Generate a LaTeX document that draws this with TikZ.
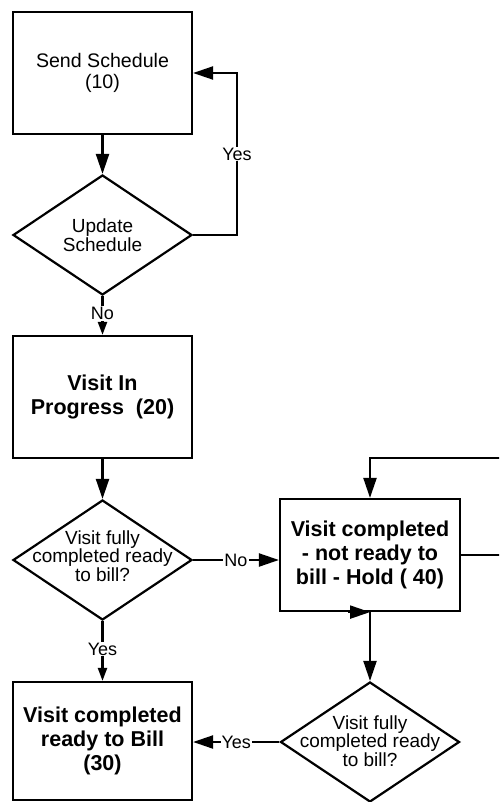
\documentclass[tikz,border=0pt]{standalone}
\usepackage{fontspec}
\setmainfont{Liberation Sans}
\usetikzlibrary{arrows.meta,calc,shapes.geometric}
\tikzset{
  stepbox/.style={
    draw,line width=2.2pt,minimum width=179pt,minimum height=122pt,
    inner sep=0pt,align=center
  },
  plain/.style={font=\fontsize{19.6}{21}\selectfont},
  strong/.style={font=\bfseries\fontsize{21.5}{24}\selectfont},
  decision/.style={
    draw,diamond,line width=2.2pt,minimum width=179pt,minimum height=120pt,
    inner sep=0pt
  },
  question/.style={font=\fontsize{19}{18.7}\selectfont,align=center},
  answer/.style={font=\fontsize{18}{19}\selectfont,fill=white,inner sep=1pt},
  connector/.style={draw,line width=2.2pt},
  arrow/.style={connector,-{Triangle[length=20pt,width=13pt]}},
  tinyarrow/.style={connector,-{Triangle[length=13pt,width=9pt]}}
}

\begin{document}
\begin{tikzpicture}[x=1pt,y=-1pt]
\useasboundingbox (0,0) rectangle (499,802);
\clip (0,0) rectangle (499,802);

% steps and decisions
\node[stepbox,plain] (send) at (102.5,73) {Send Schedule\\(10)};
\node[decision] (update) at (102.5,235) {};
\node[question] at (update) {Update\\Schedule};

\node[stepbox,strong] (progress) at (102.5,397) {Visit In\\Progress\ \ (20)};
\node[decision] (fully) at (102.5,560) {};
\node[question] at ($(fully)+(0,-4)$) {Visit fully\\completed ready\\to bill?};

\node[stepbox,strong,minimum height=118pt] (billed) at (102.5,741)
  {Visit completed\\ready to Bill\\(30)};

\node[stepbox,strong,minimum width=180pt,minimum height=112pt] (hold)
  at (370,555) {Visit completed\\- not ready to\\bill - Hold ( 40)};
\node[decision] (refully) at (370,742) {};
\node[question] at ($(refully)+(0,-1)$) {Visit fully\\completed ready\\to bill?};

% connectors
\draw[arrow] (send) -- (update);
\coordinate (yesbend) at (237,73);
\draw[arrow] (update.east) -| node[answer,pos=0.75] {Yes} (yesbend) -- (send.east);
\draw[tinyarrow] (update.south) -- node[answer,pos=0.45] {No} (progress.north);

\draw[arrow] (progress) -- (fully);
\draw[arrow] (fully.east) -- node[answer,pos=0.5] {No} (fully.east -| hold.west);
\draw[tinyarrow] (fully.south) -- node[answer,pos=0.47] {Yes} (billed.north);

\coordinate (holdloop) at (515,458);
\draw[arrow] (hold.east) -| (holdloop) -| (hold.north);
\draw[arrow] ($(hold.south)+(-22,0)$) -- (hold.south);
\draw[arrow] (hold.south) -- (refully.north);
\draw[arrow] (refully.west) -- node[answer,pos=0.5] {Yes} (refully.west -| billed.east);

\end{tikzpicture}
\end{document}
